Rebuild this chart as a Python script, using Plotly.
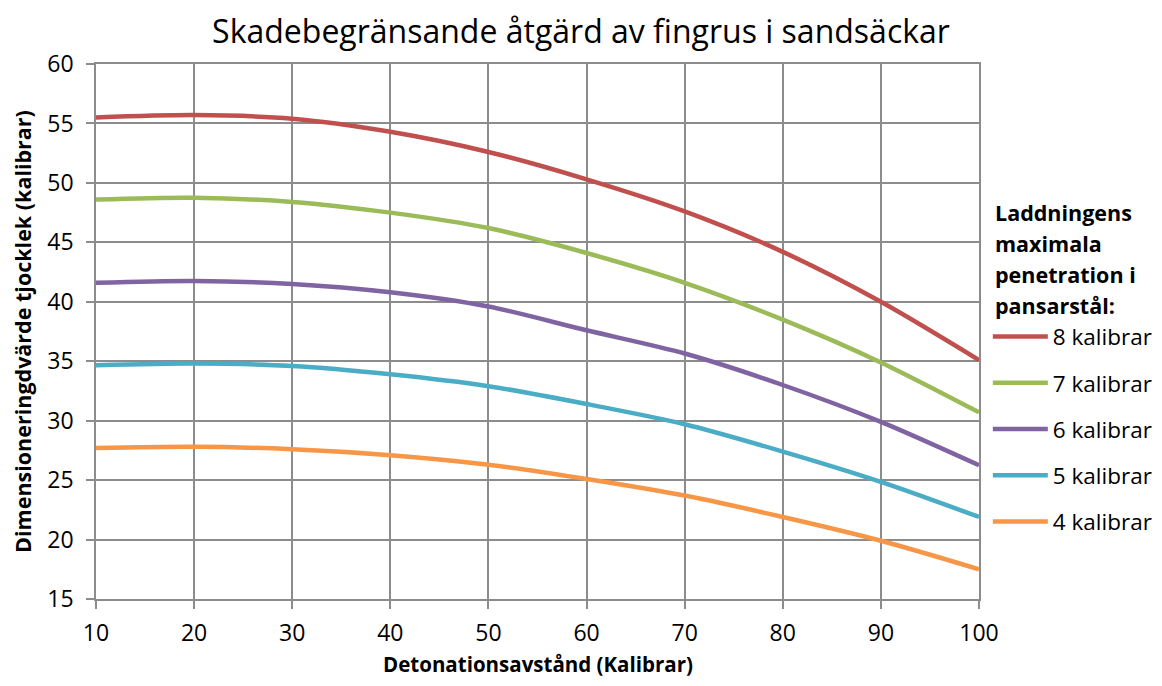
import plotly.graph_objects as go

# ── Data ───────────────────────────────────────────────────────────────────────
avstand = [10, 20, 30, 40, 50, 60, 70, 80, 90, 100]

kal_8 = [55.5, 55.7, 55.4, 54.3, 52.6, 50.3, 47.6, 44.2, 40.0, 35.1]
kal_7 = [48.6, 48.75, 48.4, 47.5, 46.2, 44.1, 41.6, 38.5, 34.9, 30.7]
kal_6 = [41.6, 41.75, 41.5, 40.8, 39.6, 37.6, 35.65, 33.0, 29.9, 26.25]
kal_5 = [34.66, 34.8, 34.6, 33.9, 32.9, 31.4, 29.7, 27.4, 24.85, 21.9]
kal_4 = [27.7, 27.8, 27.6, 27.1, 26.3, 25.1, 23.7, 21.9, 19.9, 17.5]

serier = [
    ("8 kalibrar", kal_8, "#C0504D"),
    ("7 kalibrar", kal_7, "#9BBB59"),
    ("6 kalibrar", kal_6, "#8064A2"),
    ("5 kalibrar", kal_5, "#4BACC6"),
    ("4 kalibrar", kal_4, "#F79646"),
]

legend_rubrik = ["Laddningens", "maximala", "penetration i", "pansarstål:"]

FONT = "'Open Sans', sans-serif"
GRID = "#8C8C8C"

fig = go.Figure()
for namn, y, farg in serier:
    fig.add_trace(go.Scatter(
        x=avstand, y=y, name=namn, mode="lines",
        line=dict(color=farg, width=4.5, shape="spline", smoothing=0.8),
        legendgroup=namn,
    ))

# legendens rubrik som separata rader (Excel-radavstånd)
for i, rad in enumerate(legend_rubrik):
    fig.add_annotation(
        text=f"<b>{rad}</b>", xref="paper", yref="paper",
        x=1.016, y=0.722 - i * 0.058, xanchor="left", yanchor="middle",
        showarrow=False, font=dict(family=FONT, size=21.5, color="black"),
    )

# x-axelns rubrik, lite längre ner än Plotly tillåter med standoff
fig.add_annotation(
    text="<b>Detonationsavstånd (Kalibrar)</b>", xref="paper", yref="paper",
    x=0.5, y=-0.1215, xanchor="center", yanchor="middle",
    showarrow=False, font=dict(family=FONT, size=20.5, color="black"),
)

axel = dict(
    showgrid=True, gridcolor=GRID, gridwidth=1.5,
    showline=True, linecolor=GRID, linewidth=1.5, mirror=True,
    ticks="outside", ticklen=8, tickcolor=GRID, tickwidth=1.5,
    tickfont=dict(family=FONT, size=23, color="black"),
    zeroline=False, automargin=False,
)

fig.update_layout(
    title=dict(
        text="Skadebegränsande åtgärd av fingrus i sandsäckar",
        x=0.5, xanchor="center", y=0.964, yanchor="middle",
        font=dict(family=FONT, size=32, color="black"),
    ),
    xaxis=dict(
        range=[10, 100], tickvals=list(range(10, 101, 10)),
        ticklabelstandoff=5,
        **axel,
    ),
    yaxis=dict(
        range=[15, 60], tickvals=list(range(15, 61, 5)),
        ticklabelstandoff=8,
        title=dict(text="<b>Dimensioneringdvärde tjocklek (kalibrar)</b>",
                   font=dict(family=FONT, size=21.5, color="black"), standoff=14),
        **axel,
    ),
    legend=dict(
        font=dict(family=FONT, size=22.5, color="black"),
        x=1.010, xanchor="left", y=0.53, yanchor="top",
        tracegroupgap=14, bgcolor="rgba(0,0,0,0)",
        itemwidth=55,
    ),
    plot_bgcolor="white", paper_bgcolor="white",
    margin=dict(l=88, r=175, t=56, b=79, autoexpand=False),
    width=1146, height=670,
)

fig.write_html("out.html")
